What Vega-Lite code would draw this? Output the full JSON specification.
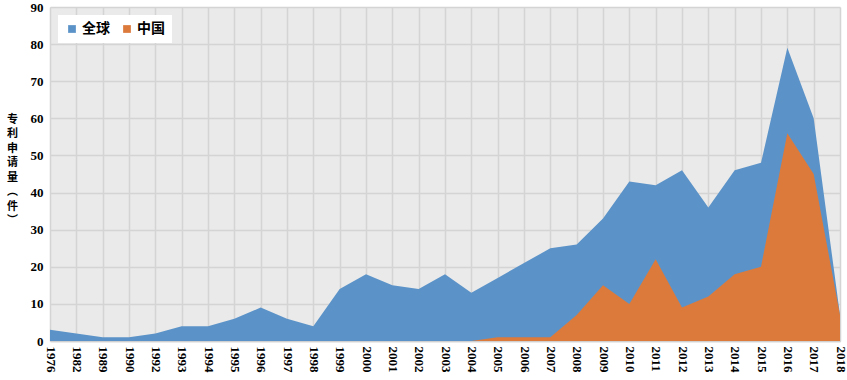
{
  "$schema": "https://vega.github.io/schema/vega-lite/v6.json",
  "autosize": {"type": "fit", "contains": "padding"},
  "width": 847,
  "height": 380,
  "padding": {"top": 1, "bottom": 8, "left": 6, "right": 1},
  "background": "white",
  "config": {
    "view": {"fill": "#eaeaea", "stroke": null},
    "font": "Liberation Serif"
  },
  "data": {
    "values": [
      {"year": "1976", "series": "全球", "value": 3},
      {"year": "1982", "series": "全球", "value": 2},
      {"year": "1989", "series": "全球", "value": 1},
      {"year": "1990", "series": "全球", "value": 1},
      {"year": "1992", "series": "全球", "value": 2},
      {"year": "1993", "series": "全球", "value": 4},
      {"year": "1994", "series": "全球", "value": 4},
      {"year": "1995", "series": "全球", "value": 6},
      {"year": "1996", "series": "全球", "value": 9},
      {"year": "1997", "series": "全球", "value": 6},
      {"year": "1998", "series": "全球", "value": 4},
      {"year": "1999", "series": "全球", "value": 14},
      {"year": "2000", "series": "全球", "value": 18},
      {"year": "2001", "series": "全球", "value": 15},
      {"year": "2002", "series": "全球", "value": 14},
      {"year": "2003", "series": "全球", "value": 18},
      {"year": "2004", "series": "全球", "value": 13},
      {"year": "2005", "series": "全球", "value": 17},
      {"year": "2006", "series": "全球", "value": 21},
      {"year": "2007", "series": "全球", "value": 25},
      {"year": "2008", "series": "全球", "value": 26},
      {"year": "2009", "series": "全球", "value": 33},
      {"year": "2010", "series": "全球", "value": 43},
      {"year": "2011", "series": "全球", "value": 42},
      {"year": "2012", "series": "全球", "value": 46},
      {"year": "2013", "series": "全球", "value": 36},
      {"year": "2014", "series": "全球", "value": 46},
      {"year": "2015", "series": "全球", "value": 48},
      {"year": "2016", "series": "全球", "value": 79},
      {"year": "2017", "series": "全球", "value": 60},
      {"year": "2018", "series": "全球", "value": 7},
      {"year": "2004", "series": "中国", "value": 0},
      {"year": "2005", "series": "中国", "value": 1},
      {"year": "2006", "series": "中国", "value": 1},
      {"year": "2007", "series": "中国", "value": 1},
      {"year": "2008", "series": "中国", "value": 7},
      {"year": "2009", "series": "中国", "value": 15},
      {"year": "2010", "series": "中国", "value": 10},
      {"year": "2011", "series": "中国", "value": 22},
      {"year": "2012", "series": "中国", "value": 9},
      {"year": "2013", "series": "中国", "value": 12},
      {"year": "2014", "series": "中国", "value": 18},
      {"year": "2015", "series": "中国", "value": 20},
      {"year": "2016", "series": "中国", "value": 56},
      {"year": "2017", "series": "中国", "value": 45},
      {"year": "2018", "series": "中国", "value": 7}
    ]
  },
  "encoding": {
    "x": {
      "field": "year",
      "type": "ordinal",
      "sort": null,
      "scale": {"type": "point", "padding": 0, "domain": ["1976","1982","1989","1990","1992","1993","1994","1995","1996","1997","1998","1999","2000","2001","2002","2003","2004","2005","2006","2007","2008","2009","2010","2011","2012","2013","2014","2015","2016","2017","2018"]},
      "axis": {
        "title": null,
        "labelAngle": 90,
        "labelAlign": "left",
        "labelBaseline": "middle",
        "labelFont": "Liberation Serif",
        "labelFontWeight": "bold",
        "labelFontSize": 13,
        "labelColor": "black",
        "labelPadding": 5,
        "ticks": false,
        "domain": true,
        "domainColor": "#d0d0d0",
        "domainWidth": 1.5,
        "grid": true,
        "gridColor": "#d4d4d4",
        "gridWidth": 1.5,
        "labelOverlap": false
      }
    },
    "y": {
      "field": "value",
      "type": "quantitative",
      "stack": null,
      "scale": {"domain": [0, 90], "nice": false},
      "axis": {
        "values": [0, 10, 20, 30, 40, 50, 60, 70, 80, 90],
        "title": ["专", "利", "申", "请", "量", "︵", "件", "︶"],
        "titleAngle": 0,
        "titleFont": "Noto Sans CJK SC",
        "titleFontWeight": "bold",
        "titleFontSize": 11,
        "titleLineHeight": 14.5,
        "titleAlign": "center",
        "titleBaseline": "top",
        "titleX": -38,
        "titleY": 106,
        "titleColor": "black",
        "labelFont": "Liberation Serif",
        "labelFontWeight": "bold",
        "labelFontSize": 13,
        "labelColor": "black",
        "labelPadding": 7,
        "ticks": false,
        "domain": false,
        "grid": true,
        "gridColor": "#d4d4d4",
        "gridWidth": 1.5
      }
    },
    "color": {
      "field": "series",
      "type": "nominal",
      "scale": {"domain": ["全球", "中国"], "range": ["#5b93c8", "#dc7a3c"]},
      "legend": {
        "title": null,
        "orient": "top-left",
        "direction": "horizontal",
        "offset": 8,
        "padding": 7,
        "fillColor": "white",
        "symbolType": "square",
        "symbolSize": 60,
        "symbolStrokeWidth": 0,
        "labelFont": "Noto Sans CJK SC",
        "labelFontWeight": "bold",
        "labelFontSize": 14,
        "labelColor": "black",
        "labelOffset": 3,
        "columnPadding": 10
      }
    }
  },
  "layer": [
    {
      "transform": [{"filter": "datum.series == '全球'"}],
      "mark": {"type": "area", "opacity": 1}
    },
    {
      "transform": [{"filter": "datum.series == '中国'"}],
      "mark": {"type": "area", "opacity": 1}
    }
  ]
}
